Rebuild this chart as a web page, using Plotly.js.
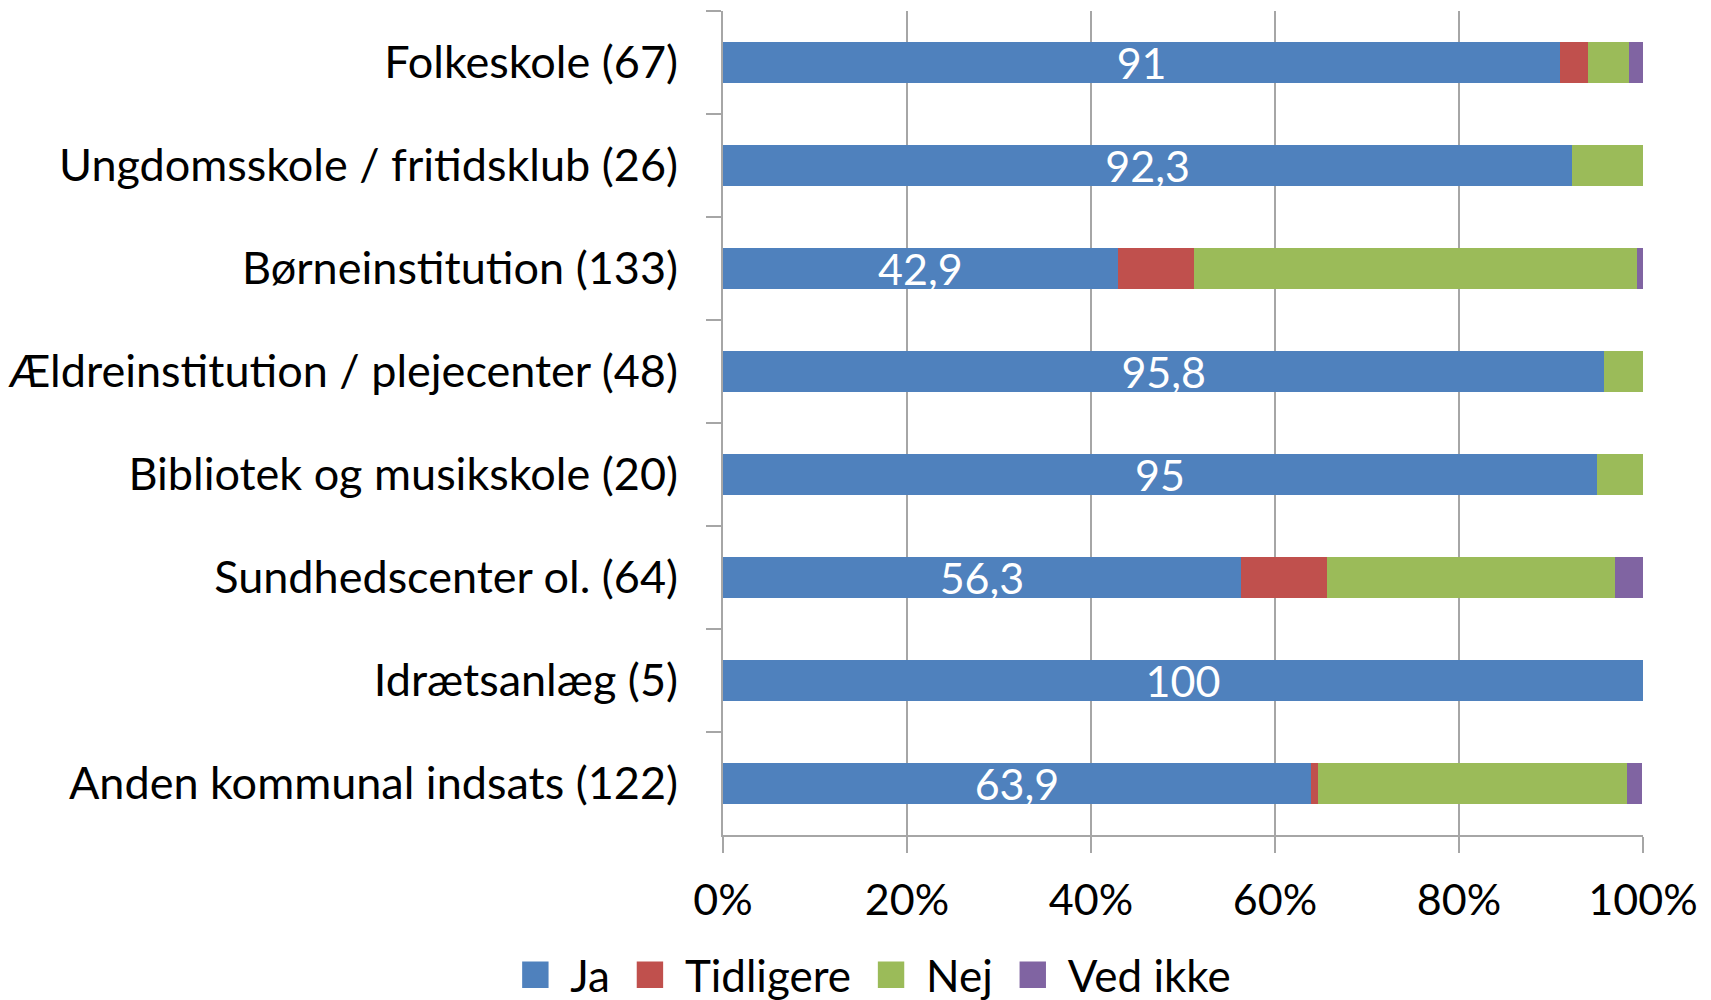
<!DOCTYPE html>
<html>
<head>
<meta charset="utf-8">
<script src="https://cdn.plot.ly/plotly-3.0.1.min.js"></script>
<style>html,body{margin:0;padding:0;background:#fff;}#chart{width:1711px;height:1000px;}</style>
</head>
<body>
<div id="chart"></div>
<script>
const categories = [
  "Folkeskole (67)",
  "Ungdomsskole / fritidsklub (26)",
  "Børneinstitution (133)",
  "Ældreinstitution / plejecenter (48)",
  "Bibliotek og musikskole (20)",
  "Sundhedscenter ol. (64)",
  "Idrætsanlæg (5)",
  "Anden kommunal indsats (122)"
];
const ja        = [91.0, 92.3, 42.9, 95.8, 95.0, 56.3, 100, 63.9];
const tidligere = [3.0, 0, 8.3, 0, 0, 9.4, 0, 0.8];
const nej       = [4.5, 7.7, 48.1, 4.2, 5.0, 31.3, 0, 33.6];
const vedIkke   = [1.5, 0, 0.7, 0, 0, 3.1, 0, 1.6];
const jaLabels  = ["91", "92,3", "42,9", "95,8", "95", "56,3", "100", "63,9"];
const seriesNames = ["Ja", "Tidligere", "Nej", "Ved ikke"];
const colors = ["#4F81BD", "#C0504D", "#9BBB59", "#8064A2"];

const FONT = "Lato, 'Open Sans', sans-serif";
const allValues = [ja, tidligere, nej, vedIkke];

const traces = allValues.map((vals, i) => ({
  type: "bar",
  orientation: "h",
  name: seriesNames[i],
  y: categories,
  x: vals,
  marker: {color: colors[i]},
  text: i === 0 ? jaLabels : undefined,
  texttemplate: i === 0 ? "%{text}" : undefined,
  textposition: i === 0 ? "inside" : "none",
  insidetextanchor: "middle",
  constraintext: "none",
  textangle: 0,
  insidetextfont: {color: "#ffffff", size: 43, family: FONT},
  hoverinfo: "x+y+name"
}));

const layout = {
  width: 1711,
  height: 1000,
  barmode: "stack",
  bargap: 0.6,
  margin: {l: 723, r: 68, t: 11, b: 165, autoexpand: false},
  paper_bgcolor: "#ffffff",
  plot_bgcolor: "#ffffff",
  font: {family: FONT, color: "#000000", size: 44},
  xaxis: {
    range: [0, 100],
    tickvals: [0, 20, 40, 60, 80, 100],
    ticktext: ["0%", "20%", "40%", "60%", "80%", "100%"],
    showgrid: true,
    gridcolor: "#a6a6a6",
    gridwidth: 1.5,
    zeroline: false,
    showline: true,
    linecolor: "#a6a6a6",
    linewidth: 2,
    ticks: "outside",
    ticklen: 16,
    tickcolor: "#a6a6a6",
    tickwidth: 1.5,
    ticklabelstandoff: 10,
    tickfont: {size: 43, family: FONT, color: "#000"},
    fixedrange: true
  },
  yaxis: {
    autorange: "reversed",
    type: "category",
    showgrid: false,
    showline: true,
    linecolor: "#a6a6a6",
    linewidth: 2,
    ticks: "outside",
    tickson: "boundaries",
    ticklen: 15,
    tickcolor: "#a6a6a6",
    tickwidth: 1.5,
    ticklabelstandoff: 34,
    tickfont: {size: 45, family: FONT, color: "#000"},
    fixedrange: true
  },
  showlegend: true,
  legend: {
    orientation: "h",
    x: 0.158,
    xanchor: "center",
    y: -0.170,
    yanchor: "middle",
    font: {size: 44, family: FONT, color: "#000"},
    traceorder: "normal",
    itemwidth: 60
  }
};

Plotly.newPlot("chart", traces, layout, {displayModeBar: false, staticPlot: true}).then(gd => {
  // enlarge the legend colour squares to match the reference's square swatches
  gd.querySelectorAll(".legend .legendpoints path").forEach(p => {
    const t = p.getAttribute("transform") || "";
    p.setAttribute("transform", t + " scale(2.2)");
  });
});
</script>
</body>
</html>
